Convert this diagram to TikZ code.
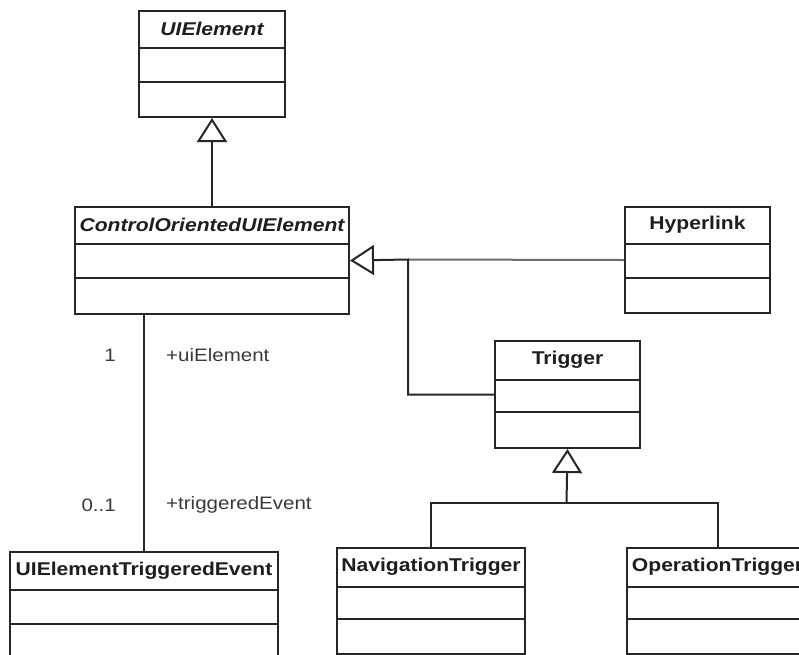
\documentclass[tikz,border=0pt]{standalone}
\usepackage{fontspec}
\setmainfont[FakeStretch=1.14]{Liberation Sans}
\usetikzlibrary{arrows.meta,calc}

\definecolor{umlline}{HTML}{262626}
\definecolor{umlgray}{HTML}{6E6E6E}
\definecolor{umltext}{HTML}{1E1E1E}
\definecolor{roletext}{HTML}{3A3A3A}

\tikzset{
  classbox/.style={draw=umlline, line width=2pt, fill=white, inner sep=0pt, anchor=north west},
  classline/.style={draw=umlline, line width=2pt},
  classtitle/.style={font=\fontsize{18.5}{21}\selectfont\bfseries, text=umltext, inner sep=0pt},
  abstracttitle/.style={classtitle, font=\fontsize{18.5}{21}\selectfont\bfseries\itshape},
  rolelabel/.style={font=\fontsize{18}{21}\selectfont, text=roletext, inner sep=0pt},
  assoc/.style={draw=umlline, line width=2pt},
  inherit/.style={draw=umlline, line width=2pt,
    -{Triangle[open, length=24pt, width=30pt, fill=white, line width=2pt]}},
}

% class box: name, x, y, width, first divider, second divider, height, title style, title
\newcommand\umlclassbox[9]{%
  \node[classbox, minimum width=#4pt, minimum height=#7pt] (#1) at (#2,#3) {};
  \draw[classline] ([yshift=-#5pt]#1.north west) -- ([yshift=-#5pt]#1.north east);
  \draw[classline] ([yshift=-#6pt]#1.north west) -- ([yshift=-#6pt]#1.north east);
  \node[#8] (#1-title) at ([yshift={-0.5*#5pt}]#1.north) {#9};
}

\begin{document}
\begin{tikzpicture}[x=1pt, y=-1pt]
  \useasboundingbox (0,0) rectangle (799,654);
  \clip (0,0) rectangle (799,654);
  \fill[white] (0,0) rectangle (799,654);

  % classes
  \umlclassbox{uielement}{138}{10}{146}{38}{72}{106}{abstracttitle}{UIElement}
  \umlclassbox{coui}{74}{206}{274}{38}{72}{107}{abstracttitle}{ControlOrientedUIElement}
  \umlclassbox{hyperlink}{624}{206}{145}{38}{72}{106}{classtitle}{Hyperlink}
  \umlclassbox{trigger}{494}{340}{145}{40}{72}{107}{classtitle}{Trigger}
  \umlclassbox{uite}{9}{551}{268}{39}{73}{110}{classtitle}{UIElementTriggeredEvent}
  \umlclassbox{navtrigger}{336}{547}{188}{40}{72}{106}{classtitle}{NavigationTrigger}
  \umlclassbox{optrigger}{626}{547}{181}{40}{72}{106}{classtitle}{OperationTrigger}

  % generalization: ControlOrientedUIElement -> UIElement
  \draw[inherit] (coui.north) -- (uielement.south);

  % generalization: Hyperlink, Trigger -> ControlOrientedUIElement
  \coordinate (join) at (408,259.5);
  \draw[assoc, draw=umlgray] (hyperlink.west) -- (join);
  \draw[inherit] (trigger.west) -| (join) -- (coui.east);

  % generalization: NavigationTrigger, OperationTrigger -> Trigger
  \coordinate (fork) at (566.5,503);
  \draw[assoc] (navtrigger.north) |- (fork);
  \draw[assoc] (optrigger.north) |- (fork);
  \draw[inherit] (fork) -- (trigger.south);

  % association with role names and multiplicities
  \draw[assoc] (uite.north) -- (uite.north |- coui.south);
  \node[rolelabel, anchor=east] (mult-top) at (116,355) {1};
  \node[rolelabel, anchor=west] (role-top) at (166,355) {+uiElement};
  \node[rolelabel, anchor=east] (mult-bottom) at (116,505) {0..1};
  \node[rolelabel, anchor=west] (role-bottom) at (166,505) {+triggeredEvent};
\end{tikzpicture}
\end{document}
